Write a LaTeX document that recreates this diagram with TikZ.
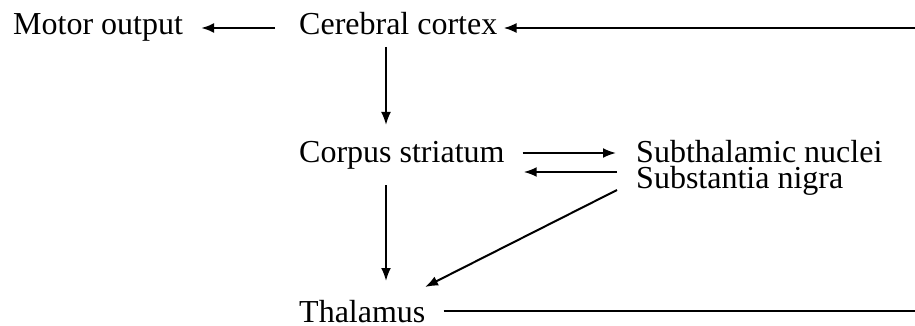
\documentclass[tikz,border=0pt]{standalone}
\usepackage{fontspec}
\setmainfont{Liberation Serif}
\usetikzlibrary{arrows.meta}
\begin{document}
\begin{tikzpicture}[
    x=1pt, y=-1pt,
    every node/.style={inner sep=0pt, anchor=base west,
                       font=\fontsize{32}{32}\selectfont},
    arr/.style={-{Latex[length=13pt,width=10pt]}, line width=2pt},
    plain/.style={line width=2.8pt}]
  \useasboundingbox (0,0) rectangle (915,326);
  \node (motor)    at (13,35)   {Motor output};
  \node (cortex)   at (299,35)  {Cerebral cortex};
  \node (striatum) at (299,162) {Corpus striatum};
  \node (subthal)  at (636,162) {Subthalamic nuclei};
  \node (nigra)    at (636,188) {Substantia nigra};
  \node (thalamus) at (299,322) {Thalamus};
  \coordinate (rtop) at (915,28);
  \coordinate (rbot) at (915,311);
  % loop back from the thalamus
  \draw[plain] ([xshift=18pt]thalamus.base east |- rbot) -- (rbot);
  \draw[arr, line width=2.4pt] (rtop) -- ([xshift=6pt]cortex.base east |- rtop);
  \draw[arr] ([xshift=-24pt]cortex.base west |- rtop)
    -- ([xshift=18pt]motor.base east |- rtop);
  % down the left column
  \draw[arr] ([xshift=87pt,yshift=-12pt]cortex.base west)
    -- ([xshift=87pt,yshift=37pt]striatum.base west);
  \draw[arr] ([xshift=87pt,yshift=-23pt]striatum.base west)
    -- ([xshift=87pt,yshift=41pt]thalamus.base west);
  % striatum and the nuclei
  \draw[arr] ([xshift=18pt,yshift=9pt]striatum.base east)
    -- ([xshift=-20pt,yshift=9pt]subthal.base west);
  \draw[arr] ([xshift=-19pt,yshift=16pt]nigra.base west)
    -- ([xshift=19pt,yshift=-10pt]striatum.base east);
  \draw[arr] ([xshift=-19pt,yshift=-2pt]nigra.base west)
    -- ([xshift=126pt,yshift=35pt]thalamus.base west);
\end{tikzpicture}
\end{document}
